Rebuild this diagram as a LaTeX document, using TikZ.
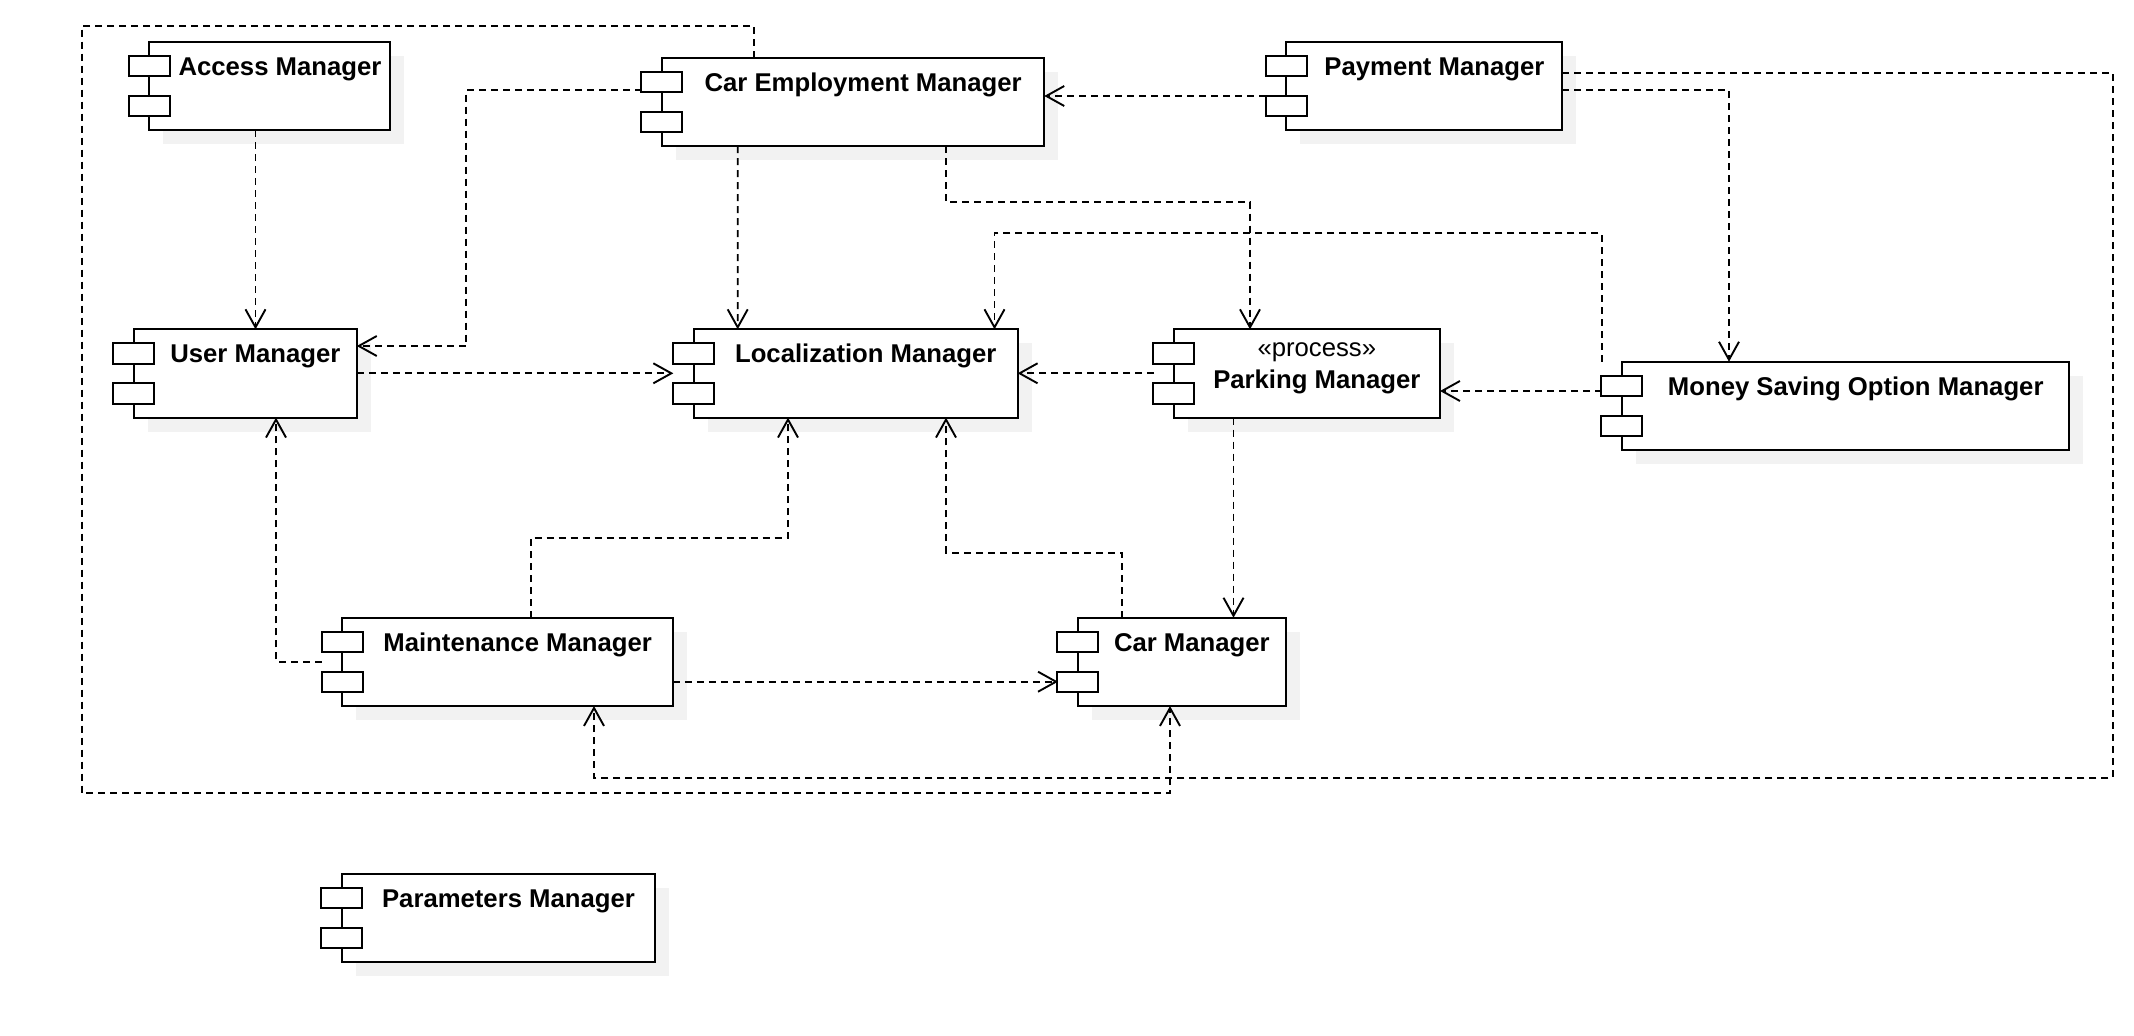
\documentclass[tikz,border=0pt]{standalone}
\usepackage{fontspec}
\setmainfont{Liberation Sans}
\usetikzlibrary{arrows.meta,calc}
\definecolor{shadowc}{RGB}{242,242,242}
\tikzset{
  box/.style={draw=black, line width=2pt, fill=white, inner sep=0pt, outer sep=0pt, minimum height=88.3pt, rectangle},
  port/.style={draw=black, line width=2pt, fill=white},
  lbl/.style={font=\fontsize{25.7}{30}\selectfont\bfseries, inner sep=0pt},
  stereo/.style={font=\fontsize{25.7}{30}\selectfont, inner sep=0pt},
  dep/.style={draw=black, line width=1.9pt, dash pattern=on 7pt off 5pt,
    -{Straight Barb[length=18pt,width=20pt]}},
}
\newcommand{\compbox}[5]{%
  \fill[shadowc] (#2+14,#3+14) rectangle (#4+14,#3+102.3);
  \node[box, minimum width={#4pt-#2pt}, anchor=north west] (#1) at (#2,#3) {};
  \draw[port] ($(#1.north west)+(-20.3,14)$) rectangle ++(40.6,20.3);
  \draw[port] ($(#1.north west)+(-20.3,54)$) rectangle ++(40.6,20.3);
  \node[lbl, anchor=base] (#1-label) at ({(#2+20.3+#4)/2},#3+33.5) {#5};
}
\begin{document}
\begin{tikzpicture}[x=1pt,y=-1pt]
\fill[white] (0,0) rectangle (2134,1036);
\useasboundingbox (0,0) rectangle (2134,1036);

\compbox{access}{149.3}{41.7}{390.4}{Access Manager}
\compbox{care}{661.7}{57.7}{1044.3}{Car Employment Manager}
\compbox{pay}{1286.4}{41.7}{1562.1}{Payment Manager}
\compbox{user}{133.6}{329.3}{356.8}{User Manager}
\compbox{loc}{693.6}{329.3}{1017.6}{Localization Manager}
\compbox{money}{1621.7}{361.7}{2069.4}{Money Saving Option Manager}
\compbox{maint}{342.2}{617.7}{672.8}{Maintenance Manager}
\compbox{carm}{1077.7}{617.7}{1285.7}{Car Manager}
\compbox{param}{341.7}{874}{655}{Parameters Manager}

% Parking manager (two-line label)
\fill[shadowc] (1173.5+14,329.3+14) rectangle (1440+14,329.3+102.3);
\node[box, minimum width={1440pt-1173.5pt}, anchor=north west] (park) at (1173.5,329.3) {};
\draw[port] ($(park.north west)+(-20.3,14)$) rectangle ++(40.6,20.3);
\draw[port] ($(park.north west)+(-20.3,54)$) rectangle ++(40.6,20.3);
\node[stereo, anchor=base] (park-stereo) at (1316.8,356.7) {«process»};
\node[lbl, anchor=base] (park-label) at (1316.8,388.3) {Parking Manager};

% connectors
\draw[dep] ($(access.south west)+(106.2,0)$) -- ($(user.north west)+(121.9,0)$);
\draw[dep] ($(care.north west)+(-20,32.3)$) -- (466.3,90) -- (466.3,346) -- ($(user.north east)+(0,16.7)$);
\draw[dep] ($(care.south west)+(76,0)$) -- ($(loc.north west)+(44.1,0)$);
\draw[dep] ($(care.south west)+(284,0)$) |- (1250,201.7) -- ($(park.north west)+(76.5,0)$);
\draw[dep] ($(care.north west)+(92.3,0)$) -- (754,25.7) -- (82,25.7) -- (82,793.3) -- (1170,793.3) -- ($(carm.south west)+(92.3,0)$);
\draw[dep] ($(pay.north west)+(-20.9,54.3)$) -- ($(care.north east)+(0,38.3)$);
\draw[dep] ($(pay.north east)+(0,48.3)$) -| ($(money.north west)+(107.3,0)$);
\draw[dep] ($(pay.north east)+(0,31.6)$) -- (2113,73.3) -- (2113,777.7) -- (594,777.7) -- ($(maint.south west)+(251.8,0)$);
\draw[dep] ($(user.north east)+(0,44)$) -- ($(loc.north west)+(-20.3,44)$);
\draw[dep] ($(park.north west)+(-19.5,44)$) -- ($(loc.north east)+(0,44)$);
\draw[dep] ($(money.north west)+(-19.7,29.3)$) -- ($(park.north east)+(0,61.7)$);
\draw[dep] ($(money.north west)+(-19.7,0)$) |- (994.5,233.3) -- ($(loc.north west)+(300.9,0)$);
\draw[dep] ($(park.south west)+(60,0)$) -- ($(carm.north west)+(155.8,0)$);
\draw[dep] ($(maint.north west)+(-20.5,44)$) -| ($(user.south west)+(142.4,0)$);
\draw[dep] ($(maint.north west)+(188.4,0)$) |- (788,537.6) -- ($(loc.south west)+(94.4,0)$);
\draw[dep] ($(maint.north east)+(0,64)$) -- ($(carm.north west)+(-19.7,64)$);
\draw[dep] ($(carm.north west)+(44,0)$) |- (946,552.6) -- ($(loc.south west)+(252.4,0)$);
\end{tikzpicture}
\end{document}
